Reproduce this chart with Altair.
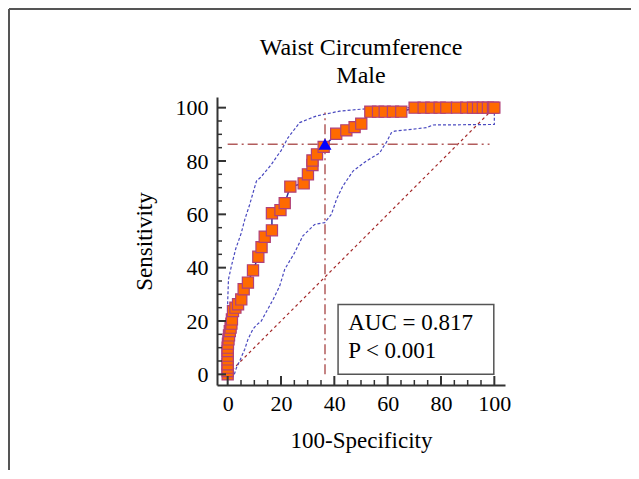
import altair as alt
import pandas as pd

# ROC curve points (100-Specificity, Sensitivity)
roc_x = [0, 0, 0, 0, 0, 0, 0, 0, 0.1, 0.3, 0.5, 0.8, 1.1, 1.4, 1.6, 2.0, 2.9, 3.9, 5.1, 6.0,
         7.6, 9.5, 11.5, 12.7, 13.9, 16.6, 16.6, 19.8, 21.4, 23.5, 28.5, 30.1, 31.8, 31.8, 33.5,
         36.0, 40.7, 44.5, 47.6, 50.1, 53.5, 56.4, 58.9, 62.0, 65.1, 70.1, 73.5, 76.4, 79.5,
         82.0, 86.0, 89.5, 92.0, 93.9, 95.7, 97.6, 99.5, 100]
roc_y = [0, 1.2, 2.5, 3.8, 5.6, 7.0, 8.7, 10.0, 11.5, 13.1, 14.6, 16.2, 17.5, 19.0, 20.6, 23.7,
         25.0, 26.3, 28.1, 31.9, 34.4, 39.0, 44.1, 47.7, 51.6, 54.0, 60.4, 61.6, 64.2, 70.4,
         71.6, 75.0, 78.5, 80.2, 82.5, 85.3, 90.2, 91.5, 92.7, 94.0, 98.5, 98.5, 98.5, 98.5,
         98.5, 100, 100, 100, 100, 100, 100, 100, 100, 100, 100, 100, 100, 100]

# Optimal criterion point
crit_x = [36.5]
crit_y = [86.3]

# Confidence bounds
up_x = [0, 0, 0.3, 1.4, 3.0, 5.1, 6.4, 8.2, 10.8, 12.5, 16.4, 18.3, 20.1, 22.6, 27.0, 33.3,
        42.0, 52.0, 54.0, 100]
up_y = [0, 27, 35.6, 40.6, 47.0, 53.0, 58.0, 63.5, 72.5, 74.0, 78.7, 81.5, 84.0, 88.7, 94.4,
        96.9, 98.7, 99.6, 100, 100]
lo_x = [2.5, 3.3, 4.5, 6.4, 7.6, 9.5, 10.8, 12.6, 16.4, 17.0, 19.5, 21.4, 25.1, 28.2, 32.6,
        36.4, 38.9, 40.8, 43.2, 47.0, 52.0, 57.0, 58.2, 59.5, 61.4, 62.6, 74.5, 77.0, 100, 100]
lo_y = [0, 2.5, 5.0, 9.4, 13.1, 17.0, 18.5, 20.0, 26.9, 28.0, 33.1, 39.4, 45.6, 51.9, 56.2,
        56.9, 60.0, 65.6, 70.6, 76.2, 80.0, 83.0, 85.0, 87.0, 90.6, 91.2, 92.5, 93.5, 93.7, 99.0]

diag_x = [0, 100]
diag_y = [0, 100]

major_ticks = [0, 20, 40, 60, 80, 100]
minor_ticks = [v for v in range(0, 101, 5) if v % 20 != 0]

box_x = [41.4]
box_x2 = [99.8]
box_y = [0]
box_y2 = [26.2]
stat_lines = ["AUC = 0.817", "P < 0.001"]
stat_x = [45.2, 45.2]
stat_y = [16.6, 6.0]

title_lines = ["Waist Circumference", "Male"]

FONT = "Liberation Serif"
dom = [-4, 104]
W = H = 288

xs = alt.Scale(domain=dom, nice=False, zero=False)
ys = alt.Scale(domain=dom, nice=False, zero=False)

roc = pd.DataFrame({"x": roc_x, "y": roc_y, "o": range(len(roc_x))})
up = pd.DataFrame({"x": up_x, "y": up_y, "o": range(len(up_x))})
lo = pd.DataFrame({"x": lo_x, "y": lo_y, "o": range(len(lo_x))})
diag = pd.DataFrame({"x": diag_x, "y": diag_y})
crit = pd.DataFrame({"x": crit_x, "y": crit_y})

X = alt.X("x:Q", scale=xs, axis=alt.Axis(
    values=major_ticks, title="100-Specificity", ticks=False, labelPadding=8, grid=False,
    titleX=W / 2, titleY=55, titleBaseline="middle", titleAlign="center"))
Y = alt.Y("y:Q", scale=ys, axis=alt.Axis(
    values=major_ticks, title="Sensitivity", ticks=False, labelPadding=9, grid=False,
    titleX=-73, titleY=H / 2, titleAngle=-90, titleBaseline="middle", titleAlign="center"))

diag_l = alt.Chart(diag).mark_line(color="#a32a2a", strokeWidth=1.2, strokeDash=[3, 3]).encode(
    x=X, y=Y)
up_l = alt.Chart(up).mark_line(color="#4a4ac0", strokeWidth=1.2, strokeDash=[3, 2]).encode(
    x=X, y=Y, order="o:Q")
lo_l = alt.Chart(lo).mark_line(color="#4a4ac0", strokeWidth=1.2, strokeDash=[3, 2]).encode(
    x=X, y=Y, order="o:Q")

href = alt.Chart(crit).mark_rule(color="#b25c5c", strokeWidth=1.5, strokeDash=[10, 4, 2, 4]).encode(
    x=alt.datum(0, scale=xs), x2=alt.datum(98.2), y=alt.Y("y:Q", scale=ys))
vref = alt.Chart(crit).mark_rule(color="#b25c5c", strokeWidth=1.5, strokeDash=[10, 4, 2, 4]).encode(
    x=alt.X("x:Q", scale=xs), y=alt.datum(0, scale=ys), y2=alt.datum(98.2))

roc_l = alt.Chart(roc).mark_line(color="#2e2e9a", strokeWidth=1.5).encode(x=X, y=Y, order="o:Q")
roc_p = alt.Chart(roc).mark_point(shape="square", filled=True, size=125, fill="#ff6a00",
                                  stroke="#b0407a", strokeWidth=1.2, opacity=1).encode(x=X, y=Y)
crit_p = alt.Chart(crit).mark_point(shape="triangle-up", filled=True, size=170, color="#0000ff",
                                    opacity=1).encode(x=X, y=Y)

box = alt.Chart(pd.DataFrame({"x": box_x, "x2": box_x2, "y": box_y, "y2": box_y2})).mark_rect(
    fill="white", stroke="#555555", strokeWidth=1.5).encode(
    x=alt.X("x:Q", scale=xs), x2="x2:Q", y=alt.Y("y:Q", scale=ys), y2="y2:Q")
stat = alt.Chart(pd.DataFrame({"t": stat_lines, "x": stat_x, "y": stat_y})).mark_text(
    font=FONT, fontSize=23, align="left", baseline="alphabetic", color="black").encode(
    x=alt.X("x:Q", scale=xs), y=alt.Y("y:Q", scale=ys), text="t:N")

# title (two centred lines above the plot)
title1 = alt.Chart(pd.DataFrame({"t": [title_lines[0]]})).mark_text(
    font=FONT, fontSize=24, align="center", baseline="alphabetic", color="black").encode(
    x=alt.value(W / 2), y=alt.value(-42.5), text="t:N")
title2 = alt.Chart(pd.DataFrame({"t": [title_lines[1]]})).mark_text(
    font=FONT, fontSize=24, align="center", baseline="alphabetic", color="black").encode(
    x=alt.value(W / 2), y=alt.value(-13.7), text="t:N")

# inward tick marks
xmaj = alt.Chart(pd.DataFrame({"v": major_ticks})).mark_rule(color="#333333", strokeWidth=2).encode(
    x=alt.X("v:Q", scale=xs), y=alt.value(H), y2=alt.value(H - 9))
xmin = alt.Chart(pd.DataFrame({"v": minor_ticks})).mark_rule(color="#333333", strokeWidth=1.5).encode(
    x=alt.X("v:Q", scale=xs), y=alt.value(H), y2=alt.value(H - 5))
ymaj = alt.Chart(pd.DataFrame({"v": major_ticks})).mark_rule(color="#333333", strokeWidth=2).encode(
    y=alt.Y("v:Q", scale=ys), x=alt.value(0), x2=alt.value(9))
ymin = alt.Chart(pd.DataFrame({"v": minor_ticks})).mark_rule(color="#333333", strokeWidth=1.5).encode(
    y=alt.Y("v:Q", scale=ys), x=alt.value(0), x2=alt.value(5))

# outer figure frame (top and left edges)
one = pd.DataFrame({"a": [1]})
frame_top = alt.Chart(one).mark_rule(color="#555555", strokeWidth=2).encode(
    x=alt.value(-208), x2=alt.value(440), y=alt.value(-88))
frame_left = alt.Chart(one).mark_rule(color="#555555", strokeWidth=2).encode(
    x=alt.value(-208), y=alt.value(-88), y2=alt.value(400))

chart = alt.layer(
    frame_top, frame_left, diag_l, up_l, lo_l, href, vref, roc_l, roc_p, crit_p, box, stat,
    xmaj, xmin, ymaj, ymin, title1, title2
).properties(
    width=W, height=H,
    background="white",
    autosize=alt.AutoSizeParams(type="none"),
    padding={"left": 209, "top": 89, "right": 126, "bottom": 85},
).configure_view(strokeWidth=0).configure_axis(
    domainColor="#333333", domainWidth=2, grid=False,
    labelFont=FONT, labelFontSize=22, labelColor="black",
    titleFont=FONT, titleFontSize=23, titleFontWeight="normal", titleColor="black",
)

chart.save("out.html", embed_options={"renderer": "svg", "actions": False})
